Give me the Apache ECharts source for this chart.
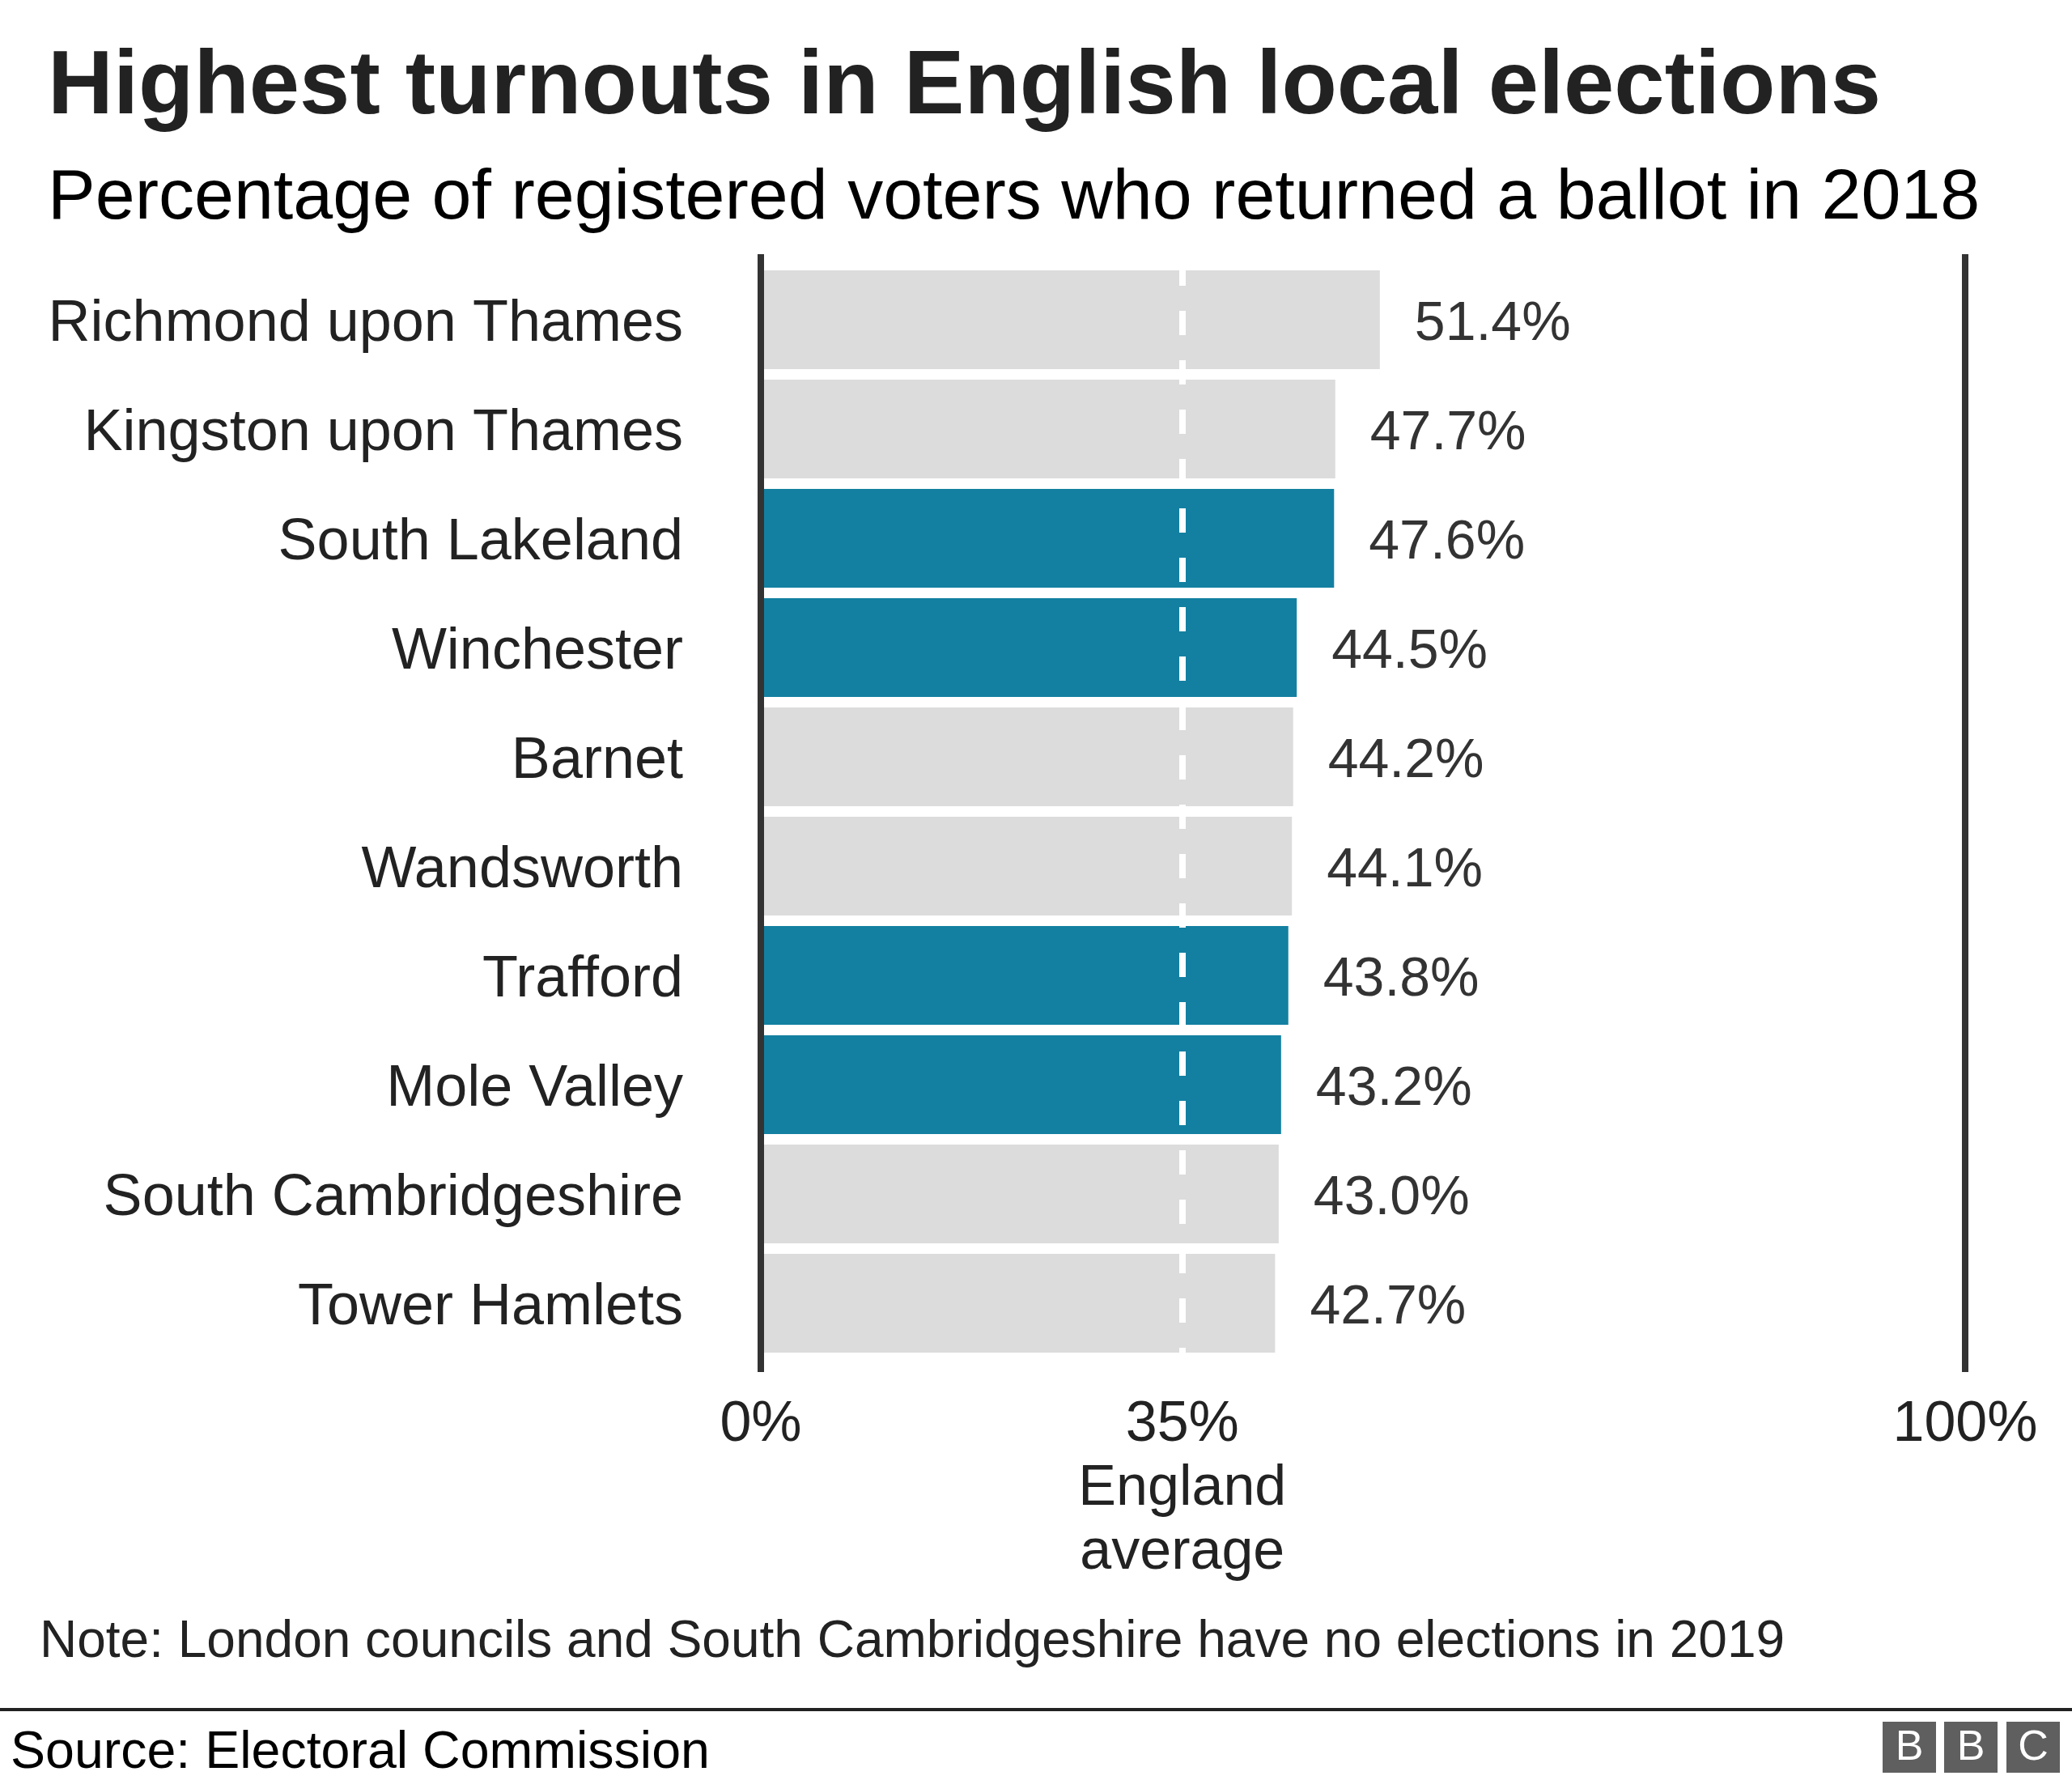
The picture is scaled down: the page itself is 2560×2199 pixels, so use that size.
<!DOCTYPE html>
<html>
<head>
<meta charset="utf-8">
<script src="https://cdn.jsdelivr.net/npm/echarts@6/dist/echarts.min.js"></script>
<style>
html,body{margin:0;padding:0;background:#fff;}
#chart{width:2560px;height:2199px;}
</style>
</head>
<body>
<div id="chart"></div>
<script>
const categories = ["Richmond upon Thames","Kingston upon Thames","South Lakeland","Winchester","Barnet","Wandsworth","Trafford","Mole Valley","South Cambridgeshire","Tower Hamlets"];
const turnout = [51.4, 47.7, 47.6, 44.5, 44.2, 44.1, 43.8, 43.2, 43.0, 42.7];
const highlighted = ["South Lakeland","Winchester","Trafford","Mole Valley"];
const englandAverage = 35;
const tickValues = [0, 35, 100];
const averageLabel = "England\naverage";

const FONT = '"Liberation Sans", Arial, sans-serif';
const TEAL = '#1380a1', GREY = '#dcdcdc', INK = '#222222';

const chart = echarts.init(document.getElementById('chart'), null, {renderer:'canvas'});

function textEl(x, baseline, str, size, weight, color) {
  return {type:'text', left:x, top: baseline - 0.27*size - size/2, z:10,
    style:{text:str, font: weight+' '+size+'px '+FONT, fill:color, lineHeight:size}};
}

const option = {
  animation:false,
  backgroundColor:'#ffffff',
  grid:[
    {left:940, right:132, top:327.5, height:1350},
    {left:940, right:132, top:314, bottom:504}
  ],
  xAxis:[
    {gridIndex:0, type:'value', min:0, max:100, show:false},
    {gridIndex:1, type:'value', min:0, max:100, interval:100, z:3,
      axisLine:{show:false}, axisTick:{show:false},
      splitLine:{show:true, lineStyle:{color:'#333333', width:8}},
      axisLabel:{show:true, customValues:tickValues, margin:26, fontFamily:FONT, fontSize:70, color:INK, lineHeight:79,
        formatter:function(v){ return v===englandAverage ? v+'%\n'+averageLabel : v+'%'; }}}
  ],
  yAxis:[
    {gridIndex:0, type:'category', data:categories, inverse:true,
      axisLine:{show:false}, axisTick:{show:false}, splitLine:{show:false},
      axisLabel:{margin:96, fontFamily:FONT, fontSize:72, color:INK,
        formatter:v=>'{a|'+v+'}',
        rich:{a:{fontFamily:FONT, fontSize:72, color:INK, padding:[13,0,0,0]}}}},
    {gridIndex:1, type:'value', min:0, max:1, show:false, splitLine:{show:false}}
  ],
  series:[
    {type:'bar', xAxisIndex:0, yAxisIndex:0, barWidth:122, z:2,
      data: turnout.map((v,i)=>({value:v, itemStyle:{color: highlighted.includes(categories[i]) ? TEAL : GREY}})),
      label:{show:true, position:'right', distance:43, offset:[0,6], fontFamily:FONT, fontSize:68, color:'#333333',
        formatter:p=>p.value.toFixed(1)+'%'}},
    {type:'line', xAxisIndex:1, yAxisIndex:1, data:[], z:5,
      markLine:{silent:true, symbol:'none', label:{show:false}, z:5,
        lineStyle:{color:'#ffffff', width:8, type:[30,31]},
        data:[{xAxis:englandAverage}]}}
  ],
  graphic:[
    textEl(59, 139, 'Highest turnouts in English local elections', 112, 'bold', INK),
    textEl(59, 269, 'Percentage of registered voters who returned a ballot in 2018', 88, 'normal', '#000000'),
    textEl(49, 2047, 'Note: London councils and South Cambridgeshire have no elections in 2019', 64, 'normal', INK),
    textEl(13, 2183, 'Source: Electoral Commission', 64.5, 'normal', '#000000'),
    {type:'rect', shape:{x:0, y:2110, width:2560, height:4}, style:{fill:'#222222'}},
    {type:'group', left:2326, top:2127, children:[
      {type:'rect', shape:{x:0, y:0, width:66, height:63}, style:{fill:'#5f5f5f'}},
      {type:'rect', shape:{x:76, y:0, width:66, height:63}, style:{fill:'#5f5f5f'}},
      {type:'rect', shape:{x:153, y:0, width:66, height:63}, style:{fill:'#5f5f5f'}},
      {type:'text', x:33, y:33, style:{text:'B', font:'normal 52px '+FONT, fill:'#fff', align:'center', verticalAlign:'middle'}},
      {type:'text', x:109, y:33, style:{text:'B', font:'normal 52px '+FONT, fill:'#fff', align:'center', verticalAlign:'middle'}},
      {type:'text', x:186, y:33, style:{text:'C', font:'normal 52px '+FONT, fill:'#fff', align:'center', verticalAlign:'middle'}}
    ]}
  ]
};
chart.setOption(option);
</script>
</body>
</html>
